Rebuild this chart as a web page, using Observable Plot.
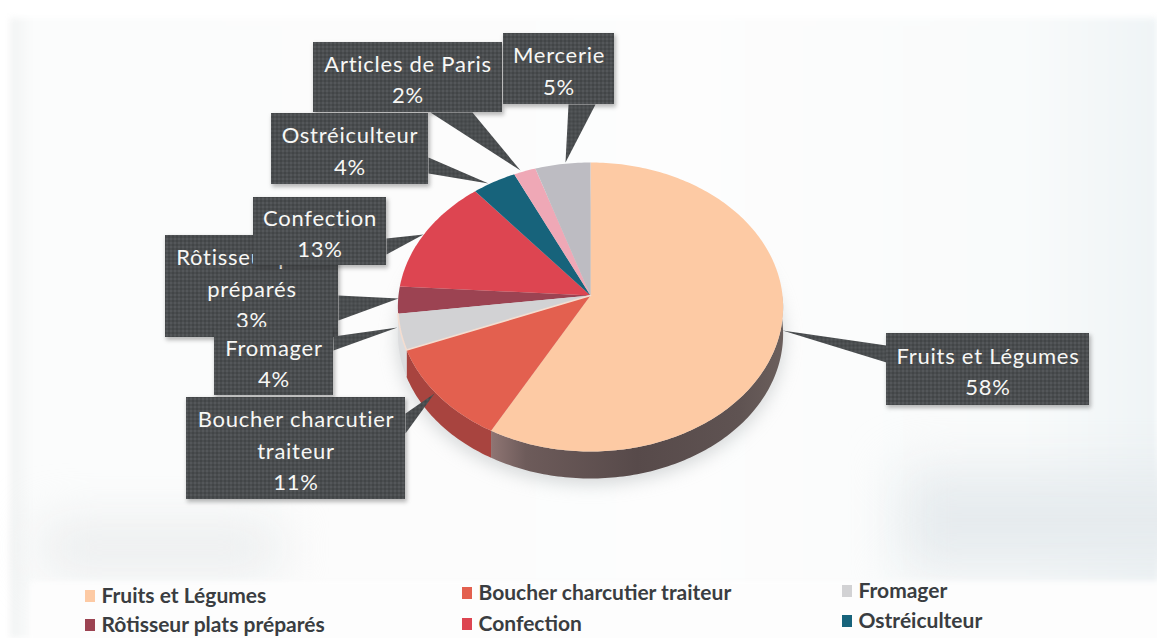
<!DOCTYPE html>
<html><head><meta charset="utf-8">
<script src="https://cdn.jsdelivr.net/npm/d3@7"></script>
<script src="https://cdn.jsdelivr.net/npm/@observablehq/plot@0.6"></script>
<style>
html,body{margin:0;padding:0;background:#fff;overflow:hidden}
svg{display:block}
.soft{filter:blur(9px)}
.wide{filter:blur(26px)}
.edge{filter:blur(3px)}
.boxshadow{filter:blur(2px)}
.lbl{letter-spacing:.75px}
</style></head><body>
<script>
// DATA
const names = ["Fruits et Légumes","Boucher charcutier traiteur","Fromager","Rôtisseur plats préparés","Confection","Ostréiculteur","Articles de Paris","Mercerie"];
const values = [58,11,4,3,13,4,2,5];
const labelText = ["Fruits et Légumes","Boucher charcutier\ntraiteur","Fromager","Rôtisseur plats\npréparés","Confection","Ostréiculteur","Articles de Paris","Mercerie"];
const legendShown = [0,1,2,3,4,5];

// STYLE
const colors = ["#fdcaa4","#e3604f","#d2d2d4","#9c4352","#dd4551","#17637b","#efa8b6","#bdbcc2"];
const sideFill = ["url(#sideFruit)","#a8443f","#dcdddf","#dcdddf","#9c2f38","#0f4556","#a87680","#85848a"];

// LAYOUT (pixels of the 1157x638 frame)
const W=1157,H=638, cx=590, cy=295, rx=192, ry=143.6, persp=0.0795, depth=27;
function rim(deg){const t=deg*Math.PI/180,u=Math.sin(t),v=Math.cos(t),k=1/(1+persp*v);return [cx+rx*u*k,cy-ry*v*k];}
const callouts = {
 0:{box:[886,333,1089,405],ptr:[[886,345],[886,362],[782,330]]},
 3:{box:[165,235,338,337],ptr:[[338,295],[338,320],[398,298]]},
 4:{box:[253,197,386,265],ptr:[[386,238],[386,254],[423,234]]},
 2:{box:[214,327,333,395],ptr:[[333,336],[333,350],[397,327]]},
 1:{box:[186,397,405,499],ptr:[[405,413],[405,433],[434,393]]},
 6:{box:[313,42,502,112],ptr:[[430,112],[472,112],[520,170]]},
 5:{box:[271,113,428,184],ptr:[[428,157],[428,173],[488,183]]},
 7:{box:[503,33,614,104],ptr:[[568,104],[595,104],[565,162]]}
};
const drawOrder=[0,3,4,2,1,6,5,7];
const legendPos=[[85,596],[462,593],[842,591],[85,625],[462,624],[842,621]];

// geometry of slices from the values
const total=d3.sum(values);
let acc=0;
const slices=values.map((v,i)=>{const a0=acc/total*360;acc+=v;return {i,a0,a1:acc/total*360};});
function topPoly(s){const p=[{x:cx,y:cy}];for(let a=s.a0;a<s.a1;a+=1){const[q,r]=rim(a);p.push({x:q,y:r});}const[q,r]=rim(s.a1);p.push({x:q,y:r});return p;}
function sidePoly(s){const a0=Math.max(s.a0,90),a1=Math.min(s.a1,272);if(a1<=a0)return null;const up=[],dn=[];for(let a=a0;a<=a1;a+=1){const[q,r]=rim(a);up.push({x:q,y:r});dn.unshift({x:q,y:r+depth});}const[q,r]=rim(a1);up.push({x:q,y:r});dn.unshift({x:q,y:r+depth});return up.concat(dn);}

const poly=(pts,fill,extra={})=>Plot.line(pts,{x:"x",y:"y",fill,stroke:"none",curve:"linear",...extra});
const defs=()=>{const s=d3.create("svg:g");const d=s.append("defs");
 const pat=d.append("pattern").attr("id","hatch").attr("width",4).attr("height",4).attr("patternUnits","userSpaceOnUse");
 pat.append("rect").attr("width",4).attr("height",4).attr("fill","#4a4d4f");
 pat.append("rect").attr("width",2).attr("height",2).attr("fill","#424547");
 pat.append("rect").attr("x",2).attr("y",2).attr("width",2).attr("height",2).attr("fill","#54575a");
 const g=d.append("linearGradient").attr("id","sideFruit").attr("x1",0).attr("x2",1).attr("y1",0).attr("y2",0);
 [[0,"#8f7573"],[.12,"#6d5b5a"],[.5,"#574a4a"],[.85,"#5f5352"],[1,"#6b5f5c"]].forEach(([o,c])=>g.append("stop").attr("offset",o).attr("stop-color",c));
 const b=d.append("linearGradient").attr("id","paper").attr("x1",0).attr("x2",1).attr("y1",0).attr("y2",0);
 [[0,"#f1f3f3"],[.02,"#fbfcfc"],[.6,"#fdfdfd"],[.88,"#f9fbfb"],[1,"#eff4f6"]].forEach(([o,c])=>b.append("stop").attr("offset",o).attr("stop-color",c));
 return s.node();};

const o4={x1:"x1",y1:"y1",x2:"x2",y2:"y2"};
const marks=[
 defs,
 Plot.rect([{x1:10,y1:18,x2:W,y2:H}],{...o4,fill:"url(#paper)",className:"edge"}),
 Plot.rect([{x1:900,y1:470,x2:W+60,y2:570}],{...o4,fill:"#e6ebee",className:"wide"}),
 Plot.rect([{x1:40,y1:525,x2:280,y2:570}],{...o4,fill:"#e9ebec",className:"wide"}),
 Plot.rect([{x1:30,y1:581,x2:W+10,y2:H+10}],{...o4,fill:"#fdfdfd",className:"edge"})
];
// soft shadow under the pie
const shadowPts=d3.range(0,361,3).map(a=>{const[q,r]=rim(a);return{x:q,y:r+depth+5};});
marks.push(poly(shadowPts,"#a9afb2",{className:"soft",opacity:.5}));
// side wall, then top surface
slices.forEach(s=>{const p=sidePoly(s);if(p)marks.push(poly(p,sideFill[s.i]));});
[0,1,3,4,5,6,7,2].forEach(i=>{const s=slices[i];marks.push(poly(topPoly(s),colors[i],i===2?{stroke:"#f4ddd0",strokeWidth:1.6,strokeLinejoin:"round"}:{}));});
// callouts
drawOrder.forEach(i=>{const c=callouts[i],[x1,y1,x2,y2]=c.box;
 marks.push(Plot.rect([{x1:x1+1,y1:y1+2,x2:x2+2,y2:y2+3}],{...o4,fill:"#222",opacity:.32,className:"boxshadow"}));
 marks.push(poly(c.ptr.map(([x,y])=>({x,y})),"url(#hatch)"));
 marks.push(Plot.rect([{x1,y1,x2,y2}],{...o4,fill:"url(#hatch)"}));
 marks.push(Plot.text([labelText[i]+"\n"+values[i]+"%"],{
   x:()=>(x1+x2)/2,y:()=>(y1+y2)/2,text:d=>d,fill:"#f7f7f5",fontFamily:"Lato",fontSize:22,lineHeight:1.42,textAnchor:"middle",className:"lbl"
 }));
});
// legend
legendShown.forEach((i,n)=>{const[x,y]=legendPos[n];
 marks.push(Plot.rect([{x1:x,y1:y-6,x2:x+10,y2:y+6}],{...o4,fill:colors[i]}));
 marks.push(Plot.text([names[i]],{x:()=>x+16,y:()=>y,text:d=>d,fontFamily:"Lato",fontWeight:700,fontSize:21,fill:"#3a3d41",textAnchor:"start"}));
});

const chart=Plot.plot({width:W,height:H,margin:0,
 x:{domain:[0,W],range:[0,W],axis:null},
 y:{domain:[0,H],range:[0,H],axis:null},
 style:{background:"transparent",overflow:"hidden"},
 marks});
document.body.appendChild(chart);
</script></body></html>
